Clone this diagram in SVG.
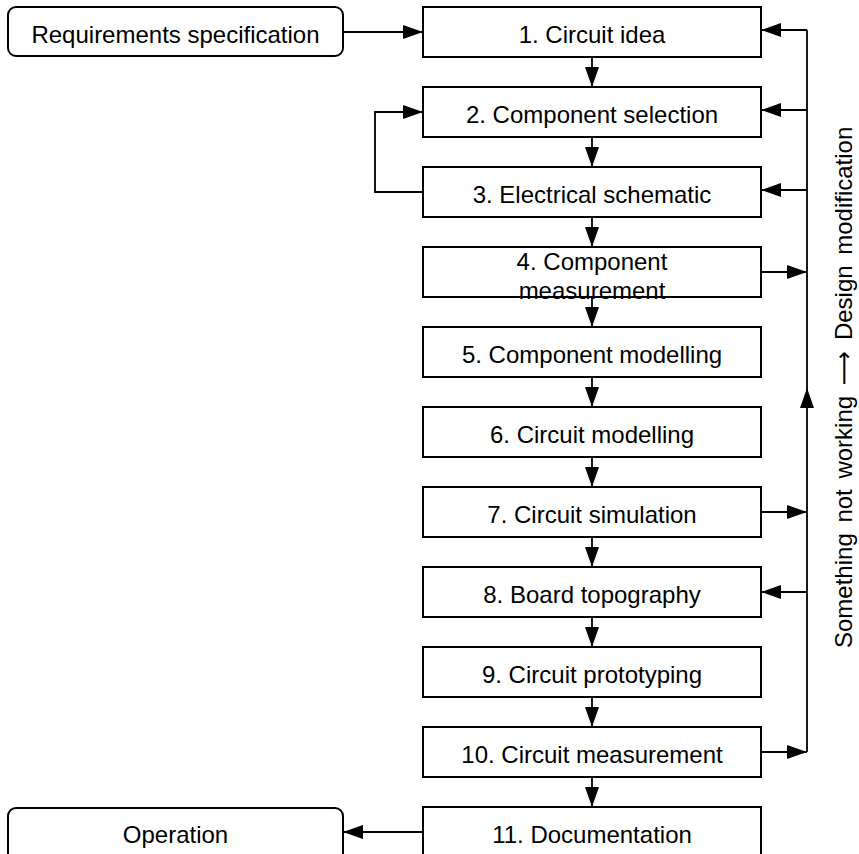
<svg xmlns="http://www.w3.org/2000/svg" width="859" height="854" viewBox="0 0 859 854">
<style>
.box{fill:#fff;stroke:#000;stroke-width:2}
.t{font-family:"Liberation Sans",Arial,"DejaVu Sans",sans-serif;font-size:24px;fill:#000;text-anchor:middle}
.c{fill:none;stroke:#000;stroke-width:1.8}
</style>
<defs>
<marker id="ah" markerUnits="userSpaceOnUse" markerWidth="20" markerHeight="14" refX="20" refY="7" orient="auto">
<path d="M0,0 L20,7 L0,14 z" fill="#000"/>
</marker>
</defs>
<rect width="859" height="854" fill="#fff"/>
<g id="connectors">
<path class="c" d="M343,32 H423" marker-end="url(#ah)"/>
<path class="c" d="M592,57 V87" marker-end="url(#ah)"/>
<path class="c" d="M592,137 V167" marker-end="url(#ah)"/>
<path class="c" d="M592,217 V247" marker-end="url(#ah)"/>
<path class="c" d="M592,297 V327" marker-end="url(#ah)"/>
<path class="c" d="M592,377 V407" marker-end="url(#ah)"/>
<path class="c" d="M592,457 V487" marker-end="url(#ah)"/>
<path class="c" d="M592,537 V567" marker-end="url(#ah)"/>
<path class="c" d="M592,617 V647" marker-end="url(#ah)"/>
<path class="c" d="M592,697 V727" marker-end="url(#ah)"/>
<path class="c" d="M592,777 V807" marker-end="url(#ah)"/>
<path class="c" d="M423,192 H375 V112 H423" marker-end="url(#ah)"/>
<path class="c" d="M807,752 V388" marker-end="url(#ah)"/>
<path class="c" d="M807,388 V30"/>
<path class="c" d="M807,30 H761" marker-end="url(#ah)"/>
<path class="c" d="M807,110 H761" marker-end="url(#ah)"/>
<path class="c" d="M807,190 H761" marker-end="url(#ah)"/>
<path class="c" d="M807,592 H761" marker-end="url(#ah)"/>
<path class="c" d="M759,272 H807" marker-end="url(#ah)"/>
<path class="c" d="M759,512 H807" marker-end="url(#ah)"/>
<path class="c" d="M759,752 H807" marker-end="url(#ah)"/>
<path class="c" d="M423,832 H343" marker-end="url(#ah)"/>
</g>
<g id="req"><rect class="box" x="8" y="7" width="335" height="49" rx="8"/><text class="t" x="175.5" y="43">Requirements specification</text></g>
<g id="n1"><rect class="box" x="423" y="7" width="338" height="50"/><text class="t" x="592" y="43">1. Circuit idea</text></g>
<g id="n2"><rect class="box" x="423" y="87" width="338" height="50"/><text class="t" x="592" y="123">2. Component selection</text></g>
<g id="n3"><rect class="box" x="423" y="167" width="338" height="50"/><text class="t" x="592" y="203">3. Electrical schematic</text></g>
<g id="n4"><rect class="box" x="423" y="247" width="338" height="50"/><text class="t" x="592" y="270">4. Component</text><text class="t" x="592" y="299">measurement</text></g>
<g id="n5"><rect class="box" x="423" y="327" width="338" height="50"/><text class="t" x="592" y="363">5. Component modelling</text></g>
<g id="n6"><rect class="box" x="423" y="407" width="338" height="50"/><text class="t" x="592" y="443">6. Circuit modelling</text></g>
<g id="n7"><rect class="box" x="423" y="487" width="338" height="50"/><text class="t" x="592" y="523">7. Circuit simulation</text></g>
<g id="n8"><rect class="box" x="423" y="567" width="338" height="50"/><text class="t" x="592" y="603">8. Board topography</text></g>
<g id="n9"><rect class="box" x="423" y="647" width="338" height="50"/><text class="t" x="592" y="683">9. Circuit prototyping</text></g>
<g id="n10"><rect class="box" x="423" y="727" width="338" height="50"/><text class="t" x="592" y="763">10. Circuit measurement</text></g>
<g id="n11"><rect class="box" x="423" y="807" width="338" height="60"/><text class="t" x="592" y="843">11. Documentation</text></g>
<g id="op"><rect class="box" x="8" y="808" width="335" height="60" rx="8"/><text class="t" x="175.5" y="843">Operation</text></g>
<g id="side-label"><text class="t" style="text-anchor:start;word-spacing:4px" transform="translate(852,648) rotate(-90)">Something not working ⟶ Design modification</text></g>
</svg>
